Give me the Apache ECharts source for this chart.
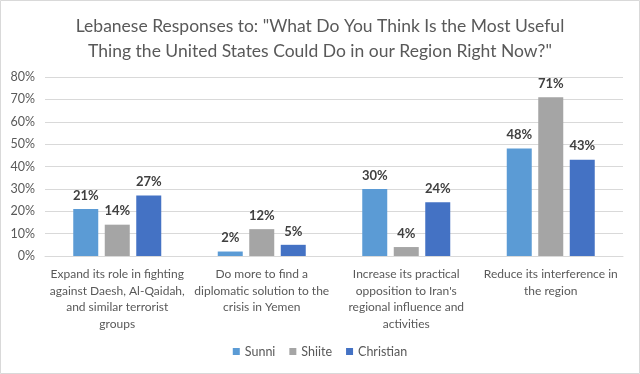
<!DOCTYPE html>
<html>
<head>
<meta charset="utf-8">
<script src="https://cdn.jsdelivr.net/npm/echarts@6/dist/echarts.min.js"></script>
<style>html,body{margin:0;padding:0;background:#fff}#c{width:640px;height:374px}</style>
</head>
<body>
<div id="c"></div>
<script>
const titleText = 'Lebanese Responses to: "What Do You Think Is the Most Useful\nThing the United States Could Do in our Region Right Now?"';
const categories = [
  'Expand its role in fighting\nagainst Daesh, Al-Qaidah,\nand similar terrorist\ngroups',
  'Do more to find a\ndiplomatic solution to the\ncrisis in Yemen',
  'Increase its practical\nopposition to Iran\'s\nregional influence and\nactivities',
  'Reduce its interference in\nthe region'
];
const seriesNames = ['Sunni', 'Shiite', 'Christian'];
const sunni = [21, 2, 30, 48];
const shiite = [14, 12, 4, 71];
const christian = [27, 5, 24, 43];
const yTicks = [0, 10, 20, 30, 40, 50, 60, 70, 80];
const colors = ['#5B9BD5', '#A5A5A5', '#4472C4'];

const font = 'Lato, "Open Sans", sans-serif';
const chart = echarts.init(document.getElementById('c'));
const mk = (name, data, color) => ({
  name, type: 'bar', data, barWidth: 25, barGap: '26%',
  itemStyle: { color },
  label: { show: true, position: 'top', distance: 7, formatter: '{c}%',
    fontFamily: font, fontSize: 13, fontWeight: 'bold', color: '#404040' }
});
chart.setOption({
  animation: false,
  backgroundColor: '#fff',
  textStyle: { fontFamily: font },
  title: { text: titleText, left: 'center', top: 9,
    textStyle: { fontFamily: font, fontSize: 17.5, fontWeight: 'normal', color: '#595959', lineHeight: 25 } },
  graphic: [{ type: 'rect', shape: { x: 0.5, y: 0.5, width: 639, height: 373 },
    style: { fill: 'none', stroke: '#D9D9D9', lineWidth: 1 }, silent: true }],
  legend: { data: seriesNames, bottom: 11, left: 'center', itemWidth: 7, itemHeight: 7, itemGap: 14,
    icon: 'rect', textStyle: { fontFamily: font, fontSize: 12.5, color: '#595959' } },
  grid: { left: 45, right: 17, top: 77, bottom: 118 },
  xAxis: { type: 'category', data: categories,
    axisLine: { show: true, lineStyle: { color: '#D9D9D9' } }, axisTick: { show: false },
    axisLabel: { interval: 0, fontFamily: font, fontSize: 12, color: '#595959', lineHeight: 16.5, margin: 10 } },
  yAxis: { type: 'value', min: yTicks[0], max: yTicks[yTicks.length - 1], interval: 10,
    axisLine: { show: false }, axisTick: { show: false },
    splitLine: { lineStyle: { color: '#D9D9D9' } },
    axisLabel: { formatter: '{value}%', fontFamily: font, fontSize: 12.5, color: '#595959', margin: 10 } },
  series: [mk(seriesNames[0], sunni, colors[0]), mk(seriesNames[1], shiite, colors[1]), mk(seriesNames[2], christian, colors[2])]
});
</script>
</body>
</html>
